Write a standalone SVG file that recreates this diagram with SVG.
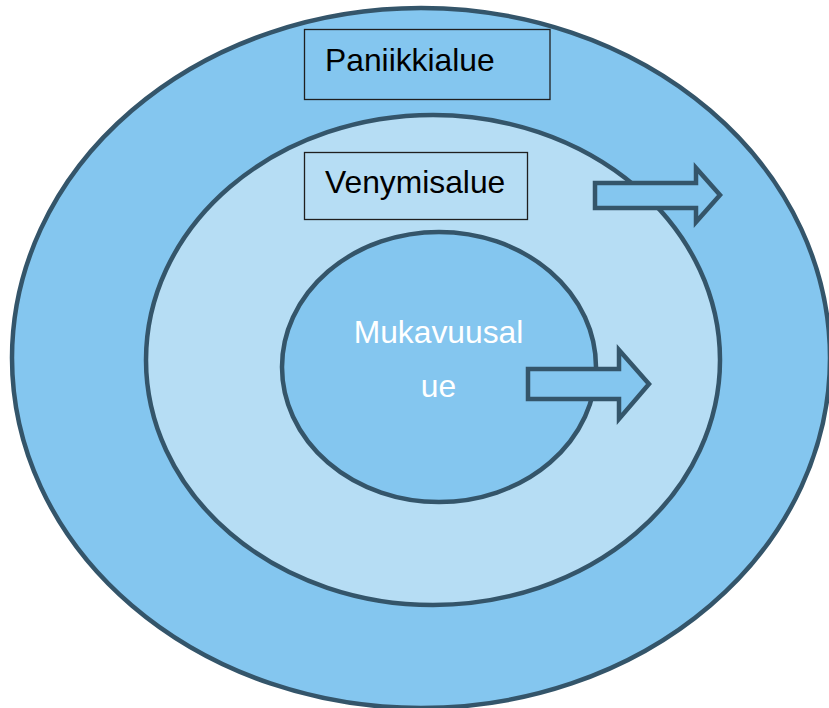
<svg xmlns="http://www.w3.org/2000/svg" width="829" height="708" viewBox="0 0 829 708">
<style>
.ring{stroke:#34556a;stroke-width:4.5}
.dark{fill:#84c6ef}
.light{fill:#b6ddf4}
.box{stroke:#1f1f1f;stroke-width:1.3}
.lbl{font-family:"Liberation Sans",Arial,sans-serif;font-size:31.8px;fill:#000}
.white{fill:#ffffff}
.arrow{fill:#84c6ef;stroke:#34556a;stroke-width:4.5;stroke-linejoin:miter}
</style>
<rect width="829" height="708" fill="#ffffff"/>
<g id="panic-zone">
<ellipse class="ring dark" cx="421" cy="358" rx="409" ry="350"/>
</g>
<g id="stretch-zone">
<ellipse class="ring light" cx="433" cy="360" rx="287" ry="245"/>
</g>
<g id="comfort-zone">
<ellipse class="ring dark" cx="439" cy="367" rx="157" ry="135"/>
<text class="lbl white" x="438.5" y="342.5" text-anchor="middle">Mukavuusal</text>
<text class="lbl white" x="438.5" y="397" text-anchor="middle">ue</text>
</g>
<g id="panic-label">
<rect class="box dark" x="304.5" y="29.5" width="245.5" height="70"/>
<text class="lbl" x="325" y="70.5">Paniikkialue</text>
</g>
<g id="stretch-label">
<rect class="box light" x="304.5" y="152.5" width="223" height="67"/>
<text class="lbl" x="325" y="192.5">Venymisalue</text>
</g>
<g id="connectors">
<polygon class="arrow" points="595,183 696,183 696,168 720,195 696,222 696,208 595,208"/>
<polygon class="arrow" points="528,369 619,369 619,350 649,384 619,419 619,399 528,399"/>
</g>
</svg>
